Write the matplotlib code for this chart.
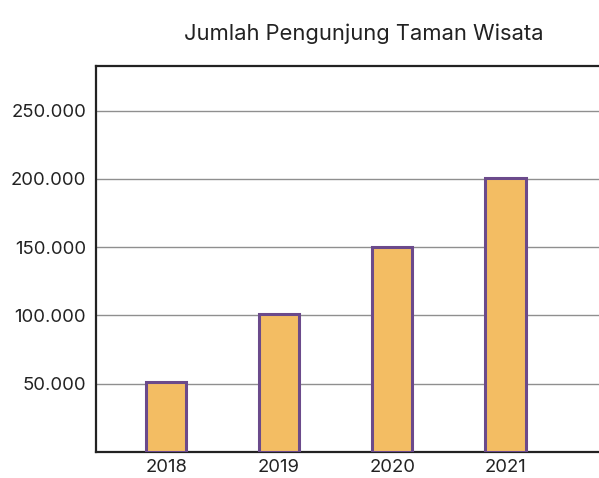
import matplotlib.pyplot as plt
from matplotlib.ticker import FuncFormatter

# Data pengunjung per tahun
tahun = ['2018', '2019', '2020', '2021']
pengunjung = [51000, 101000, 150000, 201000]
yticks = [50000, 100000, 150000, 200000, 250000]

plt.rcParams['font.family'] = ['Inter', 'DejaVu Sans']

fig = plt.figure(figsize=(5.99, 4.78), dpi=100)
ax = fig.add_axes([96 / 599, 26 / 478, 503 / 599, 386 / 478])

x = list(range(len(tahun)))
ax.bar(x, pengunjung, width=0.36, color='#F3BD63', edgecolor='#6B4A8B',
       linewidth=2.2, zorder=3)

ax.set_xlim(-0.62, 3.83)
ax.set_ylim(0, 282700)
ax.set_xticks(x)
ax.set_xticklabels(tahun)
ax.set_yticks(yticks)
ax.yaxis.set_major_formatter(FuncFormatter(lambda v, p: f'{int(v):,}'.replace(',', '.')))

ax.grid(axis='y', color='#8f8f8f', linewidth=1.0, zorder=0)
ax.tick_params(length=0, labelsize=13.3, colors='#222222')
ax.tick_params(axis='y', pad=7)
ax.tick_params(axis='x', pad=5)

for side in ['left', 'top', 'bottom']:
    ax.spines[side].set_color('#222222')
    ax.spines[side].set_linewidth(1.6)
ax.spines['right'].set_visible(False)

fig.text(364 / 599, 1 - 34 / 478, 'Jumlah Pengunjung Taman Wisata',
         ha='center', va='center', fontsize=15.8, color='#222222')

fig.savefig('out.png', dpi=100)
